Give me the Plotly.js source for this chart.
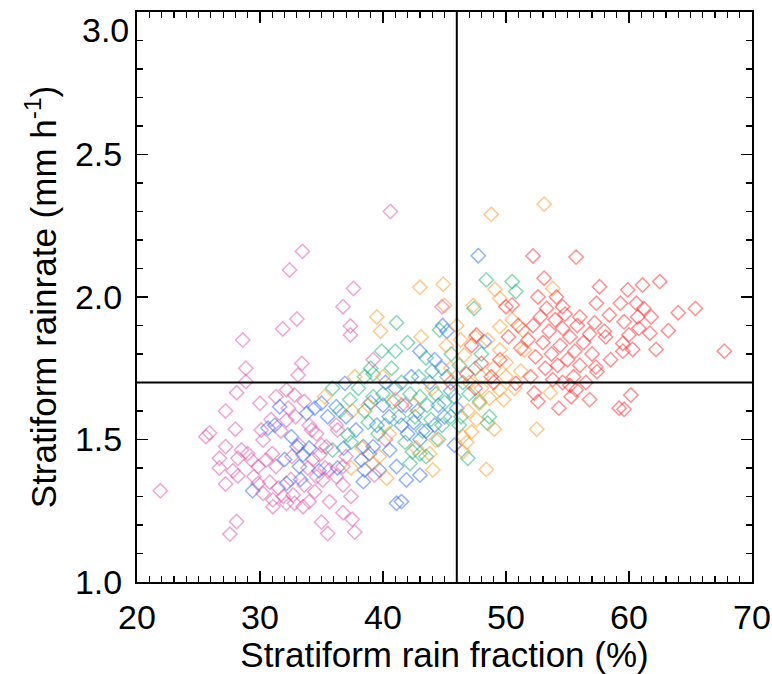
<!DOCTYPE html>
<html><head><meta charset="utf-8">
<script src="https://cdn.plot.ly/plotly-3.0.1.min.js"></script>
<style>body{margin:0;background:#fff}#c{width:772px;height:674px}</style>
</head><body><div id="c"></div>
<script>
const xTicks = [20, 30, 40, 50, 60, 70];
const yTicks = [1.0, 1.5, 2.0, 2.5, 3.0];
const xMean = 46;
const yMean = 1.7;

const pink = [
 [40.6,2.30],[33.45,2.16],[32.4,2.095],[37.6,2.03],[36.75,1.966],[33.0,1.923],[31.85,1.888],[37.35,1.898],[37.35,1.867],
 [28.6,1.849],[33.4,1.767],[28.85,1.75],[28.85,1.703],[44.8,1.966],[39.2,1.78],
 [21.9,1.32],[28.1,1.212],[27.55,1.168],[25.9,1.523],[25.6,1.51],[27.2,1.60],[28.1,1.664],[30.0,1.627],[28.0,1.536],
 [27.2,1.475],[26.7,1.434],[26.7,1.40],[28.2,1.434],[28.5,1.463],[28.2,1.372],[27.2,1.344],[29.3,1.428],[30.1,1.533],
 [30.25,1.498],[29.85,1.346],[30.25,1.311],[31.05,1.288],[31.05,1.264],[30.5,1.428],[31.3,1.405],[29.85,1.405],[31.3,1.65],
 [32.15,1.568],[32.15,1.276],[32.15,1.674],[31.9,1.30],
 [35.5,1.17],[35.0,1.21],[36.75,1.243],[35.65,1.282],[37.4,1.30],[32.7,1.305],[32.8,1.276],[33.5,1.264],[34.0,1.282],
 [34.45,1.317],[33.6,1.34],[34.6,1.37],[35.1,1.358],[36.2,1.37],[36.75,1.34],[35.65,1.393],[35.3,1.40],[36.75,1.405],
 [37.0,1.44],[35.4,1.475],[35.0,1.48],[34.85,1.446],[34.0,1.55],[34.2,1.533],[34.6,1.52],[36.2,1.55],[36.3,1.533],
 [33.6,1.633],[33.1,1.726],[37.7,1.175],[37.5,1.22],
 [33.2,1.48],[32.8,1.656],[39.3,1.375],[29.0,1.45],[27.8,1.39],[29.5,1.37],[30.8,1.35],[31.5,1.33],[32.5,1.36],
 [31.0,1.45],[32.6,1.44],[33.9,1.40],[34.3,1.43],[32.9,1.58],[32.3,1.61],[31.7,1.53],[30.9,1.57],[41.5,1.62],[40.2,1.50]
];
const blue = [
 [47.75,2.145],[44.85,1.90],[43.0,1.81],[48.25,1.843],[30.65,1.54],[29.4,1.32],[31.6,1.615],[32.15,1.346],[36.3,1.40],
 [33.5,1.446],[33.2,1.405],[33.0,1.475],[32.55,1.51],[33.8,1.592],[34.45,1.61],[35.0,1.627],[36.9,1.697],[36.2,1.615],
 [37.0,1.58],[37.8,1.533],[38.4,1.475],[38.9,1.45],[38.25,1.428],[38.5,1.393],[38.4,1.352],[41.1,1.276],[39.7,1.393],
 [39.2,1.475],[40.55,1.463],[41.1,1.405],[45.8,1.48],[43.0,1.375],[41.9,1.358],[41.5,1.282],
 [41.5,1.55],[42.0,1.52],[42.5,1.56],[43.0,1.50],[42.8,1.60],[41.8,1.62],[43.5,1.53],[44.2,1.55],[44.5,1.62],[45.0,1.58],
 [40.5,1.58],[40.0,1.62],[39.5,1.55],[41.0,1.68],[43.8,1.70],[45.5,1.67],[44.8,1.75],[42.3,1.72],[40.2,1.70],[46.0,1.61],
 [35.5,1.58],[34.0,1.47],[34.8,1.39],[32.0,1.43],[33.3,1.36],[31.2,1.55],[36.8,1.47],[39.0,1.63],[45.2,1.88],[44.2,1.78]
];
const green = [
 [41.1,1.91],[39.9,1.81],[48.4,2.06],[47.4,1.96],[44.6,1.884],[43.5,1.786],[45.55,1.80],[50.5,2.054],[50.8,2.019],
 [35.9,1.463],[35.9,1.68],[38.5,1.72],[39.2,1.73],[37.15,1.516],[37.4,1.49],[48.65,1.58],[48.5,1.557],[46.9,1.434],
 [43.5,1.44],[43.0,1.45],[42.4,1.457],[42.2,1.416],[46.35,1.58],[46.2,1.55],[47.85,1.633],
 [38.5,1.60],[39.2,1.65],[40.0,1.66],[40.8,1.63],[41.5,1.70],[42.2,1.66],[43.0,1.65],[43.6,1.62],[44.3,1.66],[45.0,1.63],
 [45.5,1.58],[44.8,1.55],[43.9,1.57],[42.6,1.58],[41.3,1.58],[40.2,1.55],[39.6,1.52],[38.8,1.56],[42.9,1.72],[44.0,1.74],
 [45.2,1.72],[46.5,1.70],[40.7,1.75],[39.0,1.75],[38.0,1.68],[37.3,1.64],[45.8,1.65],[44.5,1.50],[41.8,1.49],[47.0,1.66],
 [47.5,1.75],[48.0,1.80],[43.2,1.53],[46.2,1.76],[36.5,1.60],[41.0,1.81],[42.0,1.84]
];
const orange = [
 [39.5,1.93],[39.8,1.88],[48.8,2.29],[43.0,2.034],[44.9,2.045],[49.1,2.027],[49.5,1.995],[47.35,1.97],[43.1,1.86],
 [49.5,1.896],[49.5,1.814],[46.6,1.796],[45.15,1.83],[53.1,2.326],[53.8,2.03],[50.5,1.92],[51.35,1.884],[51.5,1.814],
 [53.6,1.664],[52.5,1.536],[50.7,1.68],[35.25,1.65],[37.7,1.72],[37.4,1.40],[39.2,1.416],[40.3,1.364],[39.7,1.44],
 [47.85,1.627],[48.65,1.645],[49.05,1.536],[47.2,1.527],[46.5,1.51],[46.8,1.49],[46.5,1.457],[48.4,1.395],[44.3,1.498],
 [44.05,1.393],[46.9,1.60],[49.5,1.674],
 [47.0,1.70],[48.0,1.72],[49.0,1.75],[50.0,1.77],[48.5,1.85],[47.5,1.86],[46.0,1.90],[45.5,1.75],[44.0,1.68],[42.5,1.62],
 [41.0,1.64],[40.5,1.52],[43.8,1.45],[42.7,1.47],[48.0,1.68],[50.0,1.72],[51.2,1.74],[49.8,1.64],[47.6,1.57],[38.8,1.62],
 [40.0,1.72],[37.5,1.60],[45.0,1.97],[46.3,1.85],[38.3,1.47]
];
const red = [
 [52.2,2.144],[55.7,2.14],[53.1,2.066],[57.6,2.036],[52.6,2.0],[54.1,2.0],[54.6,1.966],[57.35,1.978],[50.5,1.972],
 [58.4,1.937],[57.2,1.91],[58.1,1.86],[57.3,1.754],[47.6,1.867],[47.2,1.83],[48.0,1.767],[50.0,1.966],
 [50.8,1.697],[52.3,1.663],[52.6,1.633],[54.3,1.61],[55.3,1.65],[56.8,1.64],[57.4,1.738],[59.2,1.61],[55.7,1.674],[54.6,1.70],
 [62.5,2.054],[61.1,2.042],[59.9,2.025],[60.6,1.978],[61.2,1.96],[59.3,1.978],[64.0,1.945],[65.4,1.96],[60.7,1.93],
 [61.8,1.93],[59.6,1.913],[60.8,1.89],[61.7,1.873],[63.2,1.882],[60.0,1.867],[59.5,1.837],[60.3,1.816],[62.2,1.816],
 [67.75,1.81],[59.5,1.81],[60.15,1.656],[59.6,1.606],
 [52.2,1.90],[52.8,1.93],[53.5,1.88],[54.0,1.92],[54.6,1.89],[55.2,1.86],[55.8,1.90],[56.3,1.84],[53.0,1.84],[53.7,1.80],
 [54.4,1.83],[55.0,1.78],[55.6,1.81],[56.0,1.76],[52.4,1.79],[51.8,1.85],[51.2,1.82],[53.2,1.75],[54.2,1.76],[55.5,1.72],
 [56.5,1.70],[54.8,1.94],[53.3,1.96],[56.0,1.93],[51.0,1.90],[50.2,1.86],[52.0,1.72],[53.8,1.71],[55.2,1.69],[57.0,1.80],
 [58.5,1.78],[58.0,1.88],[56.8,1.87],[49.5,1.78],[48.8,1.72],[46.8,1.73],[45.5,1.70],[47.5,1.68],[49.0,1.70]
];

const groups = [
 {pts: pink,   color: 'rgb(225,80,170)'},
 {pts: blue,   color: 'rgb(40,105,245)'},
 {pts: green,  color: 'rgb(20,180,115)'},
 {pts: orange, color: 'rgb(255,150,30)'},
 {pts: red,    color: 'rgb(255,35,35)'}
];

const traces = groups.map(g => ({
  type: 'scatter', mode: 'markers',
  x: g.pts.map(p => p[0]), y: g.pts.map(p => p[1]),
  marker: {symbol: 'diamond-open', size: 11, color: g.color, opacity: 0.5, line: {width: 1.5, color: g.color}},
  hoverinfo: 'x+y', showlegend: false
}));

const font = {family: 'Liberation Sans, Arial, sans-serif', color: '#000'};
const axisCommon = {
  showline: true, linecolor: '#000', linewidth: 2, mirror: 'ticks',
  ticks: 'inside', ticklen: 11, tickwidth: 1.5, tickcolor: '#000',
  showgrid: false, zeroline: false, automargin: false,
  ticklabeloverflow: 'allow',
  tickfont: Object.assign({size: 34}, font)
};
const topLabel = yTicks[yTicks.length - 1];
const layout = {
  width: 772, height: 674,
  margin: {l: 137, r: 20, t: 12, b: 92},
  paper_bgcolor: '#fff', plot_bgcolor: '#fff',
  xaxis: Object.assign({}, axisCommon, {
    range: [20, 70.0001], tickvals: xTicks, ticktext: xTicks.map(String),
    minor: {dtick: 1, ticklen: 6, ticks: 'inside', tickcolor: '#000', tickwidth: 1.2, showgrid: false},
    ticklabelstandoff: 4,
    title: {text: 'Stratiform rain fraction (%)', font: Object.assign({size: 35}, font), standoff: 2}
  }),
  yaxis: Object.assign({}, axisCommon, {
    range: [0.9999, 3.0001], tickvals: yTicks,
    ticktext: yTicks.map(v => v === topLabel ? ' ' : v.toFixed(1)),
    minor: {dtick: 0.1, ticklen: 6, ticks: 'inside', tickcolor: '#000', tickwidth: 1.2, showgrid: false},
    ticklabelstandoff: 6,
    title: {text: 'Stratiform rainrate (mm h<sup>-1</sup>)', font: Object.assign({size: 35}, font), standoff: 8}
  }),
  annotations: [
    {xref: 'paper', yref: 'y', x: 0, y: topLabel, text: topLabel.toFixed(1), showarrow: false,
     xanchor: 'right', yanchor: 'top', xshift: -6, yshift: 3, font: Object.assign({size: 34}, font)}
  ],
  shapes: [
    {type: 'line', xref: 'x', yref: 'paper', x0: xMean, x1: xMean, y0: 0, y1: 1, line: {color: '#000', width: 2}},
    {type: 'line', xref: 'paper', yref: 'y', x0: 0, x1: 1, y0: yMean, y1: yMean, line: {color: '#000', width: 2}}
  ]
};
Plotly.newPlot('c', traces, layout, {displayModeBar: false, staticPlot: true});
</script>
</body></html>
